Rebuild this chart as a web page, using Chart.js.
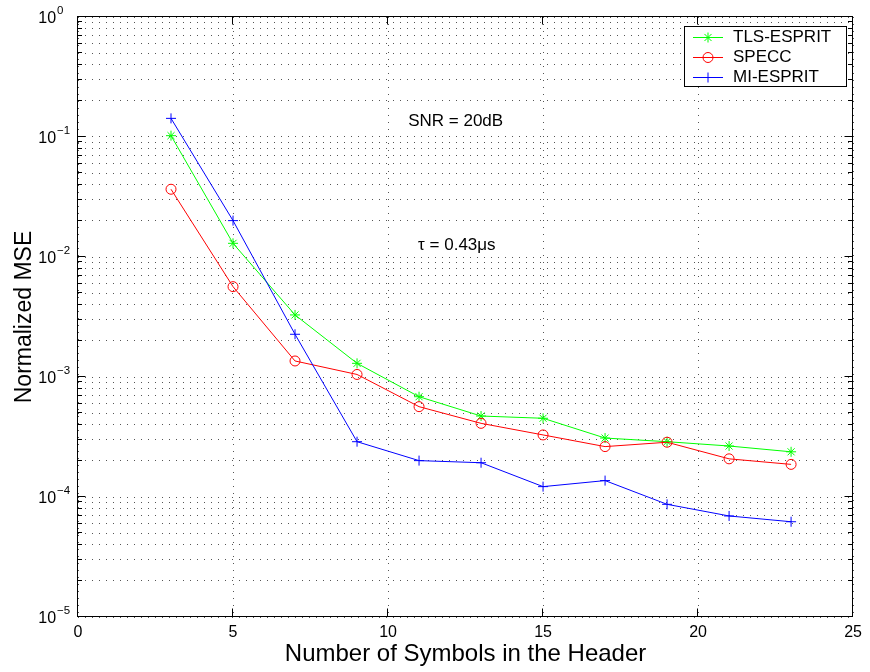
<!DOCTYPE html>
<html>
<head>
<meta charset="utf-8">
<script src="https://cdn.jsdelivr.net/npm/chart.js@4.4.1/dist/chart.umd.min.js"></script>
<style>
  html, body { margin: 0; padding: 0; background: #fff; }
  canvas { display: block; }
</style>
</head>
<body>
<canvas id="c" width="870" height="672"></canvas>
<script>
// ---- Data ----
const symbols = [3, 5, 7, 9, 11, 13, 15, 17, 19, 21, 23];
const tlsEsprit = [0.1026, 0.0130, 0.00329, 0.00130, 0.000685, 0.000473, 0.000453, 0.000310, 0.000289, 0.000266, 0.000238];
const specc     = [0.0367, 0.00566, 0.00136, 0.00105, 0.000566, 0.000411, 0.000329, 0.000263, 0.000286, 0.000208, 0.000187];
const miEsprit  = [0.143, 0.0201, 0.00227, 0.000289, 0.000201, 0.000193, 0.000122, 0.000137, 0.0000869, 0.0000695, 0.0000622];
const seriesNames = ['TLS-ESPRIT', 'SPECC', 'MI-ESPRIT'];
const xTicks = [0, 5, 10, 15, 20, 25];
const yExponents = [-5, -4, -3, -2, -1, 0];
const yMantissas = [1, 2, 3, 4, 5, 6, 7, 8, 9];
const annotations = [
  { text: 'SNR = 20dB', x: 10.65, y: 0.136 },
  { text: '\u03C4 = 0.43\u03BCs', x: 10.97, y: 0.0126 }
];

const FONT = '"Liberation Sans", Arial, Helvetica, sans-serif';
const colors = ['#00ff00', '#ff0000', '#0000ff'];
const styles = ['star', 'circle', 'cross'];

function toPoints(arr) { return symbols.map((s, i) => ({ x: s, y: arr[i] })); }

const yTickValues = [];
yExponents.forEach(e => {
  yMantissas.forEach(m => {
    const v = m * Math.pow(10, e);
    if (v <= 1.0000001) yTickValues.push(v);
  });
});

function drawMarker(ctx, style, x, y, r) {
  ctx.beginPath();
  if (style === 'circle') {
    ctx.arc(x, y, r, 0, Math.PI * 2);
  } else if (style === 'cross') {
    ctx.moveTo(x - r, y); ctx.lineTo(x + r, y);
    ctx.moveTo(x, y - r); ctx.lineTo(x, y + r);
  } else if (style === 'star') {
    ctx.moveTo(x - r, y); ctx.lineTo(x + r, y);
    ctx.moveTo(x, y - r); ctx.lineTo(x, y + r);
    const d = r * Math.SQRT1_2;
    ctx.moveTo(x - d, y - d); ctx.lineTo(x + d, y + d);
    ctx.moveTo(x - d, y + d); ctx.lineTo(x + d, y - d);
  }
  ctx.stroke();
}

const decorPlugin = {
  id: 'decor',
  afterDraw(chart) {
    const ctx = chart.ctx;
    const a = chart.chartArea;
    const xs = chart.scales.x, ys = chart.scales.y;
    ctx.save();
    // box
    ctx.strokeStyle = '#000';
    ctx.lineWidth = 1;
    const L = Math.round(a.left) - 0.5, R = Math.round(a.right) - 0.5;
    const T = Math.round(a.top) - 0.5, B = Math.round(a.bottom) - 0.5;
    ctx.strokeRect(L, T, R - L, B - T);
    // y ticks (inward, both sides)
    ctx.beginPath();
    yTickValues.forEach(v => {
      const p = Math.round(ys.getPixelForValue(v)) - 0.5;
      const major = Math.abs(Math.log10(v) - Math.round(Math.log10(v))) < 1e-9;
      const len = major ? 8 : 4.5;
      ctx.moveTo(L, p); ctx.lineTo(L + len, p);
      ctx.moveTo(R, p); ctx.lineTo(R - len, p);
    });
    // x ticks (inward, bottom and top)
    xTicks.forEach(v => {
      const p = Math.round(xs.getPixelForValue(v)) - 0.5;
      ctx.moveTo(p, B); ctx.lineTo(p, B - 8);
      ctx.moveTo(p, T); ctx.lineTo(p, T + 8);
    });
    ctx.stroke();

    // y tick labels with superscript exponents
    ctx.fillStyle = '#000';
    ctx.textAlign = 'left';
    ctx.textBaseline = 'alphabetic';
    yExponents.forEach(e => {
      const p = ys.getPixelForValue(Math.pow(10, e));
      ctx.font = '16px ' + FONT;
      const baseX = 38.3;
      ctx.fillText('10', baseX, p + 5.75);
      const w = ctx.measureText('10').width;
      ctx.font = '11.5px ' + FONT;
      const sup = e === 0 ? '0' : '\u2212' + String(-e);
      ctx.fillText(sup, baseX + w + 1, p - 3);
    });

    // annotations
    ctx.font = '17px ' + FONT;
    ctx.textBaseline = 'middle';
    annotations.forEach(an => {
      ctx.fillText(an.text, xs.getPixelForValue(an.x), ys.getPixelForValue(an.y));
    });

    // legend
    const lx = 684.5, ly = 26.5, lw = 162, lh = 60;
    ctx.fillStyle = '#fff';
    ctx.fillRect(lx, ly, lw, lh);
    ctx.strokeStyle = '#000';
    ctx.strokeRect(lx, ly, lw, lh);
    const rows = [36.7, 57.3, 76.7];
    chart.data.datasets.forEach((ds, i) => {
      const yy = Math.round(rows[i]) + 0.5;
      ctx.strokeStyle = ds.borderColor;
      ctx.lineWidth = 1;
      ctx.beginPath(); ctx.moveTo(693, yy); ctx.lineTo(723, yy); ctx.stroke();
      drawMarker(ctx, styles[i], 708, yy, 5);
      ctx.fillStyle = '#000';
      ctx.font = '17px ' + FONT;
      ctx.textBaseline = 'middle';
      ctx.fillText(ds.label, 733, yy);
    });
    ctx.restore();
  }
};

const datasets = [tlsEsprit, specc, miEsprit].map((arr, i) => ({
  label: seriesNames[i],
  data: toPoints(arr),
  borderColor: colors[i],
  backgroundColor: 'rgba(0,0,0,0)',
  borderWidth: 1,
  pointStyle: styles[i],
  pointRadius: 5,
  pointBorderWidth: 1,
  pointBorderColor: colors[i],
  pointBackgroundColor: 'rgba(0,0,0,0)',
  pointHoverRadius: 5,
  tension: 0,
  fill: false,
  order: 3 - i
}));

new Chart(document.getElementById('c'), {
  type: 'line',
  data: { datasets },
  options: {
    responsive: false,
    devicePixelRatio: 1,
    animation: false,
    events: [],
    layout: { autoPadding: false, padding: { left: 0, right: 15, top: 17, bottom: 0 } },
    plugins: { legend: { display: false }, tooltip: { enabled: false } },
    scales: {
      x: {
        type: 'linear',
        min: 0, max: 25,
        afterBuildTicks: s => { s.ticks = xTicks.map(v => ({ value: v })); },
        afterFit: s => { s.height = 55; },
        ticks: {
          autoSkip: false,
          maxRotation: 0,
          padding: 8,
          color: '#000',
          font: { family: FONT, size: 16, lineHeight: 1 }
        },
        grid: { color: '#555', lineWidth: 1, drawTicks: false },
        border: { display: false, dash: [1, 6] },
        title: {
          display: true,
          text: 'Number of Symbols in the Header',
          color: '#000',
          font: { family: FONT, size: 24, lineHeight: 1 },
          padding: { top: 1, bottom: 6 }
        }
      },
      y: {
        type: 'logarithmic',
        min: 1e-5, max: 1,
        afterBuildTicks: s => { s.ticks = yTickValues.map(v => ({ value: v })); },
        afterFit: s => { s.width = 78; },
        ticks: { display: false },
        grid: { color: '#555', lineWidth: 1, drawTicks: false },
        border: { display: false, dash: [1, 6] },
        title: {
          display: true,
          text: 'Normalized MSE',
          color: '#000',
          font: { family: FONT, size: 23, lineHeight: 1.2 },
          padding: { top: 10.7, bottom: 39.7 }
        }
      }
    }
  },
  plugins: [decorPlugin]
});
</script>
</body>
</html>
